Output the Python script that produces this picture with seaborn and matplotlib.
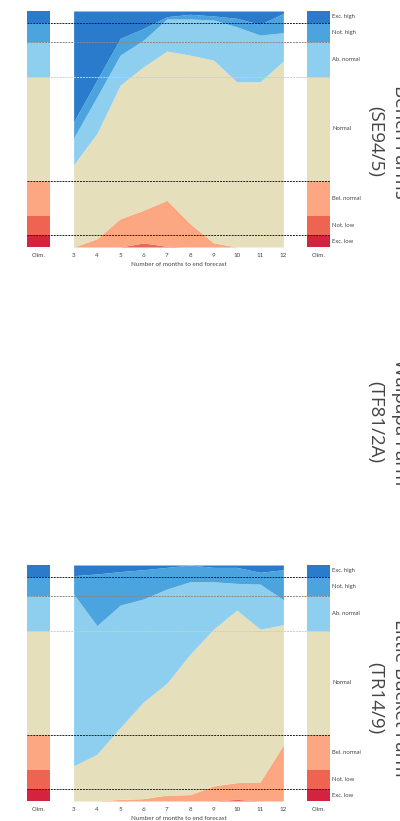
import numpy as np
import matplotlib
matplotlib.use("Agg")
import matplotlib.pyplot as plt
import seaborn as sns

sns.set_theme(style="white")
plt.rcParams['font.family'] = ['Lato', 'DejaVu Sans']

months = [3, 4, 5, 6, 7, 8, 9, 10, 11, 12]
categories = ["Exc. low", "Not. low", "Bel. normal", "Normal", "Ab. normal", "Not. high", "Exc. high"]
clim = [0.05, 0.08, 0.15, 0.44, 0.15, 0.08, 0.05]
colours = ["#d3233f", "#ee6352", "#fca782", "#e5dfbb", "#8ecfef", "#4ba4dd", "#2b7bcc"]

# SE94/5
se_exc_low = [0, 0, 0, 0, 0, 0, 0, 0, 0, 0]
se_not_low = [0, 0, 0, 0.017, 0.003, 0, 0, 0, 0, 0]
se_bel_normal = [0, 0.035, 0.12, 0.139, 0.195, 0.099, 0.018, 0, 0, 0]
se_normal = [0.349, 0.446, 0.566, 0.608, 0.632, 0.714, 0.774, 0.700, 0.700, 0.788]
se_ab_normal = [0.113, 0.155, 0.127, 0.113, 0.136, 0.153, 0.170, 0.233, 0.198, 0.120]
se_not_high = [0.068, 0.071, 0.071, 0.049, 0.010, 0.020, 0.017, 0.036, 0.045, 0.082]
se_exc_high = [0.470, 0.293, 0.116, 0.074, 0.024, 0.014, 0.021, 0.031, 0.057, 0.010]

# TR14/9
tr_exc_low = [0, 0, 0, 0, 0, 0, 0, 0, 0, 0]
tr_not_low = [0, 0, 0, 0, 0, 0, 0, 0.007, 0, 0]
tr_bel_normal = [0, 0, 0.007, 0.010, 0.025, 0.027, 0.064, 0.071, 0.081, 0.238]
tr_normal = [0.149, 0.198, 0.304, 0.410, 0.474, 0.595, 0.664, 0.731, 0.647, 0.509]
tr_ab_normal = [0.728, 0.545, 0.519, 0.436, 0.399, 0.307, 0.201, 0.113, 0.191, 0.106]
tr_not_high = [0.078, 0.219, 0.142, 0.124, 0.092, 0.071, 0.061, 0.068, 0.050, 0.127]
tr_exc_high = [0.045, 0.038, 0.028, 0.020, 0.010, 0.000, 0.010, 0.010, 0.031, 0.020]

tick_pos = [1.5] + months + [13.5]
tick_labels = ["Clim."] + [str(m) for m in months] + ["Clim."]

cum = np.cumsum(clim)
# boundary lines: (level, colour)
lines = [(cum[0], "#222222"), (cum[2], "#222222"), (cum[3], "#cccccc"),
         (cum[4], "#888888"), (cum[5], "#222222")]

txt = "#444444"


def panel(ax, layers):
    ax.stackplot(months, layers, colors=colours, linewidth=0)
    for x0 in (1.5, 13.5):
        ax.bar(x0, clim, width=1, bottom=np.r_[0, cum[:-1]], color=colours, linewidth=0)
    for lev, c in lines:
        ax.axhline(lev, color=c, lw=0.7, ls=(0, (2, 1)), zorder=5)
    ax.set_xlim(1, 14)
    ax.set_ylim(0, 1)
    ax.set_yticks([])
    ax.set_xticks(tick_pos)
    ax.set_xticklabels(tick_labels, fontsize=4.5, color=txt)
    ax.tick_params(axis="x", length=0, pad=4)
    sns.despine(ax=ax, left=True, bottom=True)
    ax.set_xlabel("Number of months to end forecast", fontsize=4.5, color=txt)
    ax.xaxis.set_label_coords(6.5 / 13, -0.065)
    mids = cum - np.array(clim) / 2
    for name, m in zip(categories, mids):
        ax.text(14.1, m, name, fontsize=4.2, color=txt, va="center", ha="left")


fig = plt.figure(figsize=(4, 8.21), dpi=100)
ax1 = fig.add_axes([27 / 400, 1 - 247 / 821, 303 / 400, 236 / 821])
ax2 = fig.add_axes([27 / 400, 1 - 801 / 821, 303 / 400, 236 / 821])

panel(ax1, [se_exc_low, se_not_low, se_bel_normal, se_normal, se_ab_normal, se_not_high, se_exc_high])
panel(ax2, [tr_exc_low, tr_not_low, tr_bel_normal, tr_normal, tr_ab_normal, tr_not_high, tr_exc_high])

sites = [("(SE94/5)", "Bench Farms", 142), ("(TF81/2A)", "Waipapa Farm", 422), ("(TR14/9)", "Little Bucket Farm", 698)]
for code, name, yc in sites:
    fig.text(375 / 400, 1 - yc / 821, code, rotation=-90, fontsize=13.5, color="#444444",
             family=["Open Sans", "DejaVu Sans"], ha="center", va="center")
    fig.text(391 / 400, 1 - yc / 821, name, rotation=-90, fontsize=13.5, color="#444444",
             family=["Open Sans", "DejaVu Sans"], ha="left", va="center")

fig.savefig("out.png", dpi=100)
